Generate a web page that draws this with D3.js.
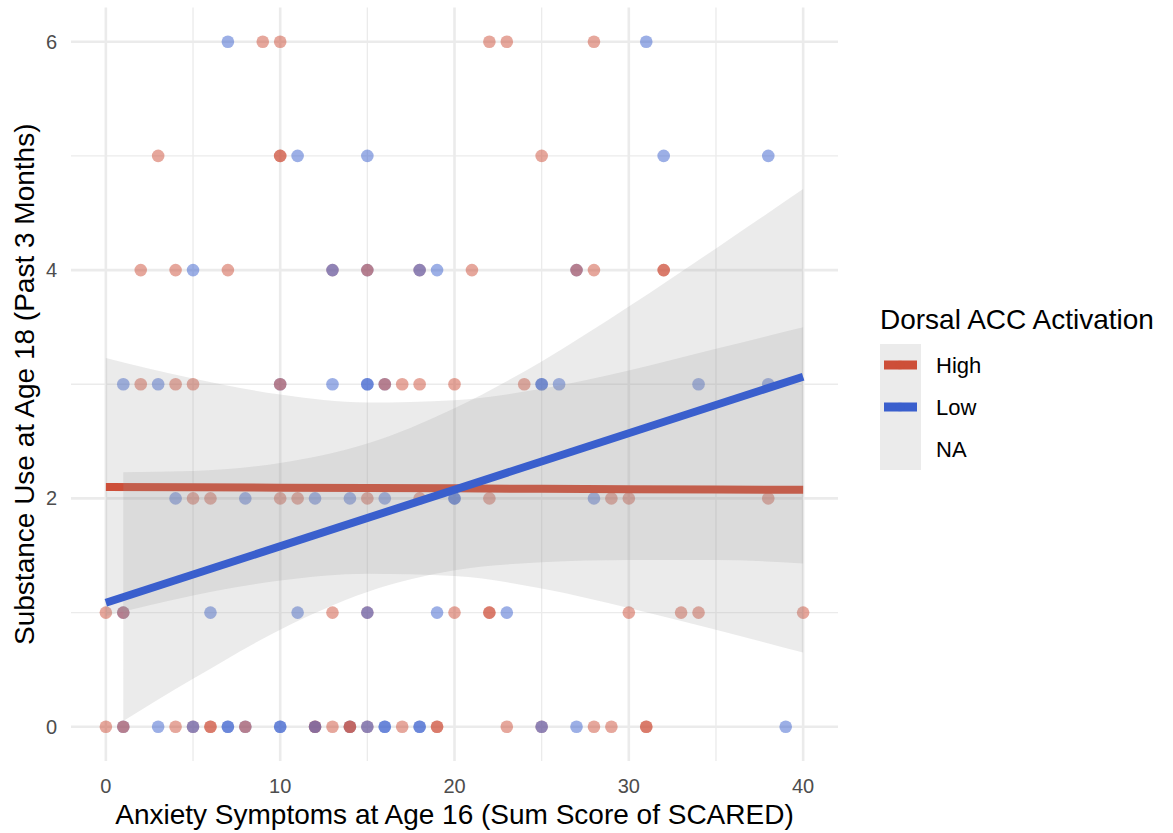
<!DOCTYPE html>
<html>
<head>
<meta charset="utf-8">
<script src="https://cdn.jsdelivr.net/npm/d3@7"></script>
<style>
  body { margin: 0; background: #fff; }
  svg { font-family: "Liberation Sans", Arial, sans-serif; }
</style>
</head>
<body>
<svg width="1173" height="833"></svg>
<script>
// observed points, in drawing order (H = High, L = Low dorsal ACC activation)
const anxiety = [
  0, 1, 1, 3, 4, 5, 5, 6, 6, 7, 7, 8, 8, 10, 10, 12, 12, 12, 13, 14, 14, 14, 15, 15, 16, 16, 17, 18, 18, 19, 19, 23, 25, 25, 27, 28, 29, 31, 31, 39,
  0, 1, 1, 6, 11, 13, 15, 15, 19, 20, 22, 22, 23, 30, 33, 34, 40,
  4, 5, 6, 8, 10, 11, 12, 14, 15, 16, 18, 20, 20, 22, 28, 29, 30, 38,
  1, 2, 3, 4, 5, 10, 10, 13, 15, 15, 16, 16, 17, 18, 20, 24, 25, 25, 26, 34, 38,
  2, 4, 5, 7, 13, 13, 15, 15, 18, 18, 19, 21, 27, 27, 28, 32, 32,
  3, 10, 10, 11, 15, 25, 32, 38,
  7, 9, 10, 22, 23, 28, 31
];
const substance = [
  0, 0, 0, 0, 0, 0, 0, 0, 0, 0, 0, 0, 0, 0, 0, 0, 0, 0, 0, 0, 0, 0, 0, 0, 0, 0, 0, 0, 0, 0, 0, 0, 0, 0, 0, 0, 0, 0, 0, 0,
  1, 1, 1, 1, 1, 1, 1, 1, 1, 1, 1, 1, 1, 1, 1, 1, 1,
  2, 2, 2, 2, 2, 2, 2, 2, 2, 2, 2, 2, 2, 2, 2, 2, 2, 2,
  3, 3, 3, 3, 3, 3, 3, 3, 3, 3, 3, 3, 3, 3, 3, 3, 3, 3, 3, 3, 3,
  4, 4, 4, 4, 4, 4, 4, 4, 4, 4, 4, 4, 4, 4, 4, 4, 4,
  5, 5, 5, 5, 5, 5, 5, 5,
  6, 6, 6, 6, 6, 6, 6
];
const activation = [
  "H", "L", "H", "L", "H", "H", "L", "H", "H", "L", "L", "L", "H", "L", "L", "H", "H", "L", "H", "L", "H", "H", "H", "L", "L", "L", "H", "L", "L", "H", "H", "H", "H", "L", "L", "H", "H", "H", "H", "L",
  "H", "L", "H", "L", "L", "H", "H", "L", "L", "H", "H", "H", "L", "H", "H", "H", "H",
  "L", "H", "H", "L", "H", "H", "L", "L", "H", "L", "H", "L", "L", "H", "L", "H", "H", "H",
  "L", "H", "L", "H", "H", "L", "H", "L", "L", "L", "L", "H", "H", "H", "H", "H", "L", "L", "L", "L", "L",
  "H", "H", "L", "H", "H", "L", "L", "H", "H", "L", "L", "H", "L", "H", "H", "H", "H",
  "H", "H", "H", "L", "L", "H", "L", "L",
  "L", "H", "H", "H", "H", "H", "L"
];

// fitted lines and confidence bands
const highFitX = [0, 5, 10, 15, 20, 25, 30, 35, 40];
const highFit = [2.100, 2.097, 2.094, 2.091, 2.088, 2.084, 2.081, 2.078, 2.075];
const highUpper = [3.23, 3.05, 2.91, 2.84, 2.86, 2.96, 3.12, 3.31, 3.50];
const highLower = [0.97, 1.15, 1.28, 1.34, 1.32, 1.21, 1.04, 0.85, 0.65];

const lowFitX = [0, 40];
const lowFit = [1.086, 3.066];
const lowBandX = [1, 5, 10, 15, 20, 25, 30, 35, 40];
const lowUpper = [2.23, 2.24, 2.31, 2.48, 2.79, 3.20, 3.68, 4.19, 4.71];
const lowLower = [0.05, 0.42, 0.85, 1.18, 1.37, 1.44, 1.46, 1.46, 1.43];

const xMajor = [0, 10, 20, 30, 40], xMinor = [5, 15, 25, 35];
const yMajor = [0, 2, 4, 6], yMinor = [1, 3, 5];
const groups = ["High", "Low", "NA"];
const colors = { H: "#CD4F39", L: "#3A5FCD" };

const svg = d3.select("svg");
const x = d3.scaleLinear().domain([-2, 42]).range([71, 838]);
const y = d3.scaleLinear().domain([-0.3, 6.3]).range([761, 7.5]);

// grid
const grid = svg.append("g");
grid.selectAll(".vmin").data(xMinor).enter().append("line")
  .attr("x1", d => x(d)).attr("x2", d => x(d)).attr("y1", y.range()[0]).attr("y2", y.range()[1])
  .attr("stroke", "#ebebeb").attr("stroke-width", 1.3);
grid.selectAll(".hmin").data(yMinor).enter().append("line")
  .attr("y1", d => y(d)).attr("y2", d => y(d)).attr("x1", x.range()[0]).attr("x2", x.range()[1])
  .attr("stroke", "#ebebeb").attr("stroke-width", 1.3);
grid.selectAll(".vmaj").data(xMajor).enter().append("line")
  .attr("x1", d => x(d)).attr("x2", d => x(d)).attr("y1", y.range()[0]).attr("y2", y.range()[1])
  .attr("stroke", "#ebebeb").attr("stroke-width", 2.6);
grid.selectAll(".hmaj").data(yMajor).enter().append("line")
  .attr("y1", d => y(d)).attr("y2", d => y(d)).attr("x1", x.range()[0]).attr("x2", x.range()[1])
  .attr("stroke", "#ebebeb").attr("stroke-width", 2.6);

// points
svg.append("g").selectAll("circle")
  .data(anxiety.map((a, i) => ({ a, s: substance[i], g: activation[i] })))
  .enter().append("circle")
  .attr("cx", d => x(d.a)).attr("cy", d => y(d.s)).attr("r", 6.3)
  .attr("fill", d => colors[d.g]).attr("fill-opacity", 0.5);

const area = d3.area().x(d => x(d[0])).y0(d => y(d[1])).y1(d => y(d[2])).curve(d3.curveMonotoneX);
const line = d3.line().x(d => x(d[0])).y(d => y(d[1]));

// High: band then line
svg.append("path").attr("d", area(highFitX.map((v, i) => [v, highLower[i], highUpper[i]])))
  .attr("fill", "#999999").attr("fill-opacity", 0.2);
svg.append("path").attr("d", line(highFitX.map((v, i) => [v, highFit[i]])))
  .attr("fill", "none").attr("stroke", colors.H).attr("stroke-width", 8);

// Low: band then line
svg.append("path").attr("d", area(lowBandX.map((v, i) => [v, lowLower[i], lowUpper[i]])))
  .attr("fill", "#999999").attr("fill-opacity", 0.2);
svg.append("path").attr("d", line(lowFitX.map((v, i) => [v, lowFit[i]])))
  .attr("fill", "none").attr("stroke", colors.L).attr("stroke-width", 8);

// axes labels
svg.append("g").selectAll("text").data(xMajor).enter().append("text")
  .attr("x", d => x(d)).attr("y", 793).attr("text-anchor", "middle")
  .attr("font-size", 20).attr("fill", "#4d4d4d").text(d => d);
svg.append("g").selectAll("text").data(yMajor).enter().append("text")
  .attr("x", 57).attr("y", d => y(d) + 7).attr("text-anchor", "end")
  .attr("font-size", 20).attr("fill", "#4d4d4d").text(d => d);

svg.append("text").attr("x", x(20)).attr("y", 824).attr("text-anchor", "middle")
  .attr("font-size", 28).attr("fill", "#000").text("Anxiety Symptoms at Age 16 (Sum Score of SCARED)");
svg.append("text").attr("transform", `translate(34,${y(3)}) rotate(-90)`).attr("text-anchor", "middle")
  .attr("font-size", 28).attr("fill", "#000").text("Substance Use at Age 18 (Past 3 Months)");

// legend
const lg = svg.append("g").attr("transform", "translate(880,0)");
lg.append("text").attr("x", 0).attr("y", 329).attr("font-size", 28).attr("fill", "#000").text("Dorsal ACC Activation");
const keyH = 42, keyTop = 344;
lg.append("rect").attr("x", 0).attr("y", keyTop).attr("width", 41).attr("height", keyH * groups.length)
  .attr("fill", "#ebebeb");
groups.forEach((g, i) => {
  const cy = keyTop + keyH * i + keyH / 2;
  if (g !== "NA") {
    const c = g === "High" ? colors.H : colors.L;
    lg.append("line").attr("x1", 4).attr("x2", 37).attr("y1", cy).attr("y2", cy)
      .attr("stroke", c).attr("stroke-width", 9);
    lg.append("circle").attr("cx", 20).attr("cy", cy).attr("r", 4.5).attr("fill", c).attr("fill-opacity", 0.3);
  }
  lg.append("text").attr("x", 56).attr("y", cy + 8).attr("font-size", 22).attr("fill", "#000").text(g);
});
</script>
</body>
</html>
